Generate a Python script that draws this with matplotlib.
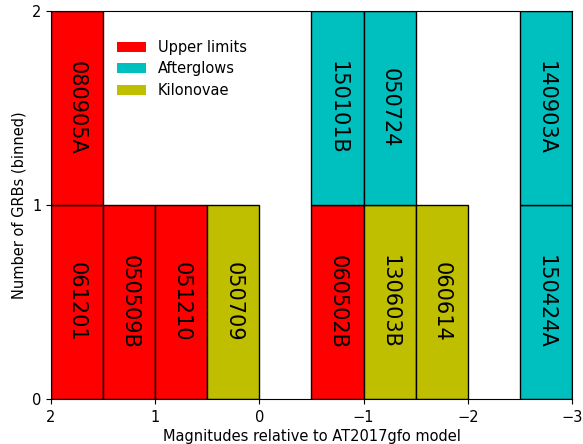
import numpy as np
import matplotlib
matplotlib.use("Agg")
import matplotlib.pyplot as plt
from matplotlib.patches import Patch

# GRBs, magnitude relative to AT2017gfo (bin centre), and type
grbs = ['061201', '080905A', '050509B', '051210', '050709',
        '060502B', '150101B', '130603B', '050724', '060614',
        '150424A', '140903A']
mags = [1.75, 1.75, 1.25, 0.75, 0.25,
        -0.75, -0.75, -1.25, -1.25, -1.75,
        -2.75, -2.75]
kinds = ['Upper limits', 'Upper limits', 'Upper limits', 'Upper limits', 'Kilonovae',
         'Upper limits', 'Afterglows', 'Kilonovae', 'Afterglows', 'Kilonovae',
         'Afterglows', 'Afterglows']
kind_names = ['Upper limits', 'Afterglows', 'Kilonovae']
kind_colors = {'Upper limits': '#ff0000', 'Afterglows': '#00bfbf', 'Kilonovae': '#bfbf00'}

binw = 0.5
edges = np.arange(-3, 2 + binw, binw)

fig = plt.figure(figsize=(5.83, 4.44), dpi=100)
ax = fig.add_axes([0.0875, 0.1014, 0.8936, 0.8736])

counts = {}
for name, m, k in zip(grbs, mags, kinds):
    i = np.digitize(m, edges) - 1
    left = edges[i]
    level = counts.get(i, 0)
    ax.bar(left, 1, width=binw, bottom=level, align='edge',
           color=kind_colors[k], edgecolor='k', linewidth=1)
    ax.text(left + binw / 2, level + 0.5, name, rotation=270,
            ha='center', va='center', fontsize=15)
    counts[i] = level + 1

ax.set_xlim(2, -3)
ax.set_ylim(0, 2)
ax.set_xticks([2, 1, 0, -1, -2, -3])
ax.set_yticks([0, 1, 2])
ax.tick_params(direction='out', labelsize=10.5)
ax.tick_params(axis='x', pad=4.5)
ax.set_xlabel('Magnitudes relative to AT2017gfo model', fontsize=10.5, labelpad=2.5)
ax.set_ylabel('Number of GRBs (binned)', fontsize=10.5)

handles = [Patch(facecolor=kind_colors[k], edgecolor='none') for k in kind_names]
ax.legend(handles, kind_names, loc='upper left', bbox_to_anchor=(0.102, 0.96),
          frameon=False, fontsize=10.5, labelspacing=0.45)

fig.savefig('out.png', dpi=100)
